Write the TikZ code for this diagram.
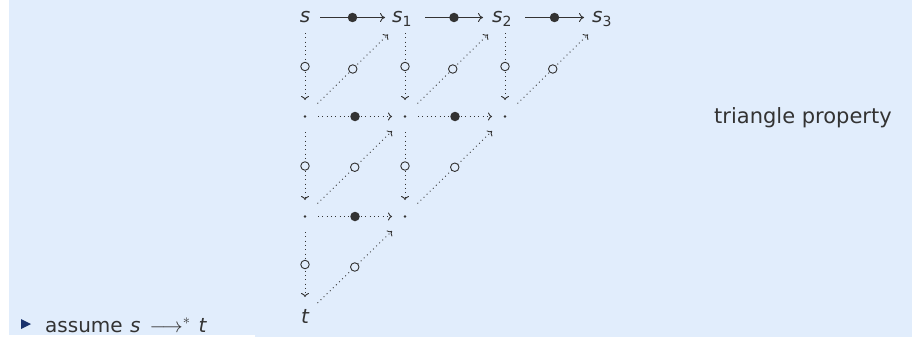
\documentclass[tikz,border=0pt]{standalone}
\usepackage{fontspec}
\setmainfont{DejaVu Sans}
\usetikzlibrary{arrows.meta,calc}
\definecolor{bg}{RGB}{225,237,252}
\definecolor{ink}{RGB}{51,51,51}
\definecolor{navy}{RGB}{25,50,110}
\tikzset{
 lbl/.style={inner sep=0pt, text=ink, font=\fontsize{20}{24}\selectfont},
 solidarr/.style={draw=ink, line width=0.9pt, -{Computer Modern Rightarrow[length=5pt,width=9pt]}},
 dotarr/.style={draw=ink, line width=0.9pt, dash pattern=on 0.9pt off 3.4pt, -{Computer Modern Rightarrow[length=4pt,width=8pt]}},
 bigdot/.style={circle, fill=ink, inner sep=0pt, minimum size=9.5pt},
 ring/.style={circle, draw=ink, fill=bg, line width=0.9pt, inner sep=0pt, minimum size=8.5pt, solid},
 smalldot/.style={circle, fill=ink, inner sep=0pt, minimum size=2.8pt},
}
\begin{document}
\begin{tikzpicture}[x=1pt,y=-1pt]
\useasboundingbox (0,0) rectangle (912,337);
\fill[white] (0,0) rectangle (912,337);
\fill[bg] (9,0) rectangle (912,337);
\fill[white] (0,334.5) rectangle (255,337);
% grid
\coordinate (g00) at (305,17.5);
\coordinate (g01) at (405,17.5);
\coordinate (g02) at (505,17.5);
\coordinate (g03) at (605,17.5);
\coordinate (g10) at (305,116.5);
\coordinate (g11) at (405,116.5);
\coordinate (g12) at (505,116.5);
\coordinate (g20) at (305,216.5);
\coordinate (g21) at (405,216.5);
\coordinate (g30) at (305,316);
% labels
\node[lbl, anchor=base] (s) at (305,23) {\itshape s};
\node[lbl, anchor=base west] (s1) at (392,23) {\itshape s\/\raisebox{-4pt}{\fontsize{14}{14}\selectfont\upshape 1}};
\node[lbl, anchor=base west] (s2) at (492,23) {\itshape s\/\raisebox{-4pt}{\fontsize{14}{14}\selectfont\upshape 2}};
\node[lbl, anchor=base west] (s3) at (592,23) {\itshape s\/\raisebox{-4pt}{\fontsize{14}{14}\selectfont\upshape 3}};
\node[lbl, anchor=base] (t) at (305,323) {\itshape t};
\node[smalldot] (d10) at (g10) {};
\node[smalldot] (d11) at (g11) {};
\node[smalldot] (d12) at (g12) {};
\node[smalldot] (d20) at (g20) {};
\node[smalldot] (d21) at (g21) {};
% row 0 solid
\draw[solidarr] ($(g00)+(15,0)$) -- node[bigdot]{} ($(g01)+(-20,0)$);
\draw[solidarr] ($(g01)+(20,0)$) -- node[bigdot]{} ($(g02)+(-22,0)$);
\draw[solidarr] ($(g02)+(20,0)$) -- node[bigdot]{} ($(g03)+(-21,0)$);
% dotted horizontals
\draw[dotarr] ($(g10)+(13,0)$) -- node[bigdot]{} ($(g11)+(-13,0)$);
\draw[dotarr] ($(g11)+(13,0)$) -- node[bigdot]{} ($(g12)+(-13,0)$);
\draw[dotarr] ($(g20)+(13,0)$) -- node[bigdot]{} ($(g21)+(-13,0)$);
% verticals
\draw[dotarr] ($(g00)+(0,15.5)$) -- node[ring]{} ($(g10)+(0,-16.5)$);
\draw[dotarr] ($(g10)+(0,15.5)$) -- node[ring]{} ($(g20)+(0,-16.5)$);
\draw[dotarr] ($(g20)+(0,15.5)$) -- node[ring]{} ($(g30)+(0,-19)$);
\draw[dotarr] ($(g01)+(0,15.5)$) -- node[ring]{} ($(g11)+(0,-16.5)$);
\draw[dotarr] ($(g11)+(0,15.5)$) -- node[ring]{} ($(g21)+(0,-16.5)$);
\draw[dotarr] ($(g02)+(0,15.5)$) -- node[ring]{} ($(g12)+(0,-16.5)$);
% diagonals
\draw[dotarr] ($(g10)+(12.5,-13)$) -- node[ring]{} ($(g01)+(-17,17)$);
\draw[dotarr] ($(g11)+(12.5,-13)$) -- node[ring]{} ($(g02)+(-17,17)$);
\draw[dotarr] ($(g12)+(12.5,-13)$) -- node[ring]{} ($(g03)+(-17,17)$);
\draw[dotarr] ($(g20)+(12.5,-13)$) -- node[ring]{} ($(g11)+(-13,14.5)$);
\draw[dotarr] ($(g21)+(12.5,-13)$) -- node[ring]{} ($(g12)+(-13,14.5)$);
\draw[dotarr] ($(g30)+(12.5,-13)$) -- node[ring]{} ($(g21)+(-13,14.5)$);
% texts
\node[lbl, anchor=base west, font=\fontsize{21}{25}\selectfont] (tp) at (714,123) {triangle property};
\fill[navy] (21,319) -- (31,324) -- (21,329) -- cycle;
\node[lbl, anchor=base west] (as) at (45,332) {assume\hspace{1pt} {\itshape s}\hspace{9pt}$\longrightarrow^{*}$\hspace{8pt}{\itshape t}};
\end{tikzpicture}
\end{document}
